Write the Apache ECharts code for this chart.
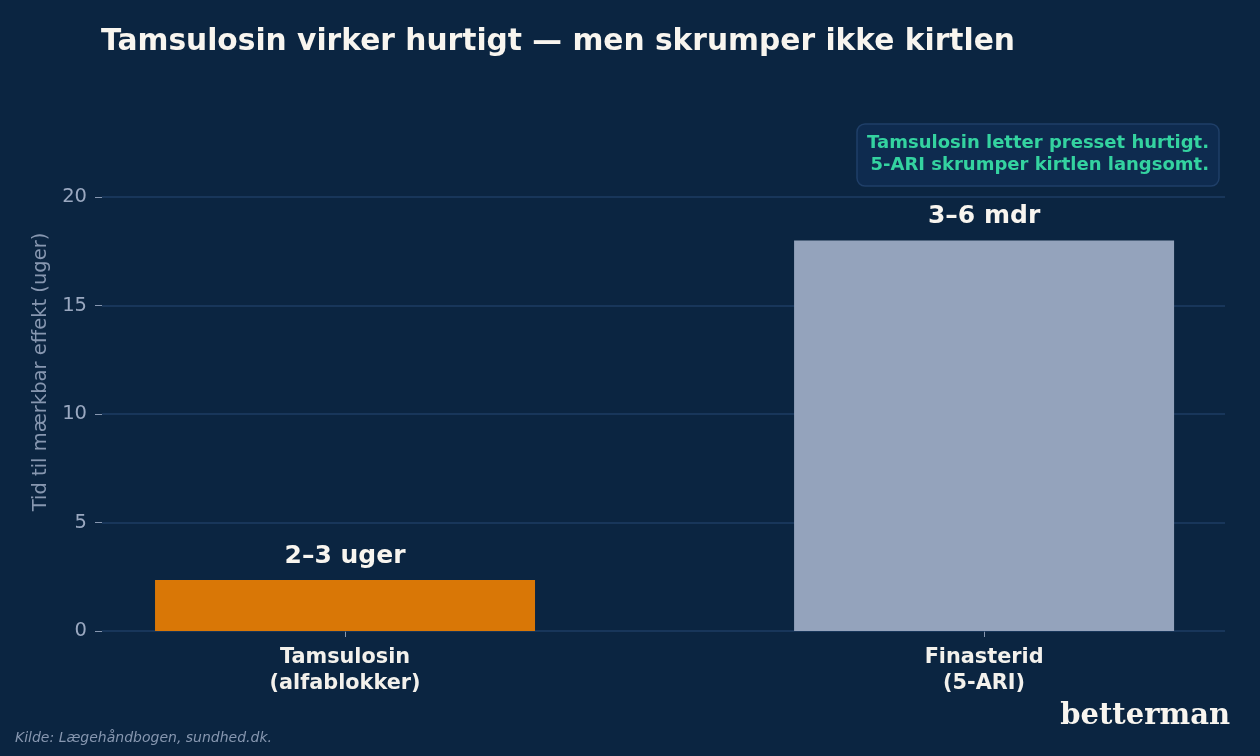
<!DOCTYPE html>
<html>
<head>
<meta charset="utf-8">
<script src="https://cdn.jsdelivr.net/npm/echarts@6/dist/echarts.min.js"></script>
<style>
  html, body { margin: 0; padding: 0; background: #0b2541; }
  #chart { width: 1260px; height: 756px; }
</style>
</head>
<body>
<div id="chart"></div>
<script>
// data
var categories = ['Tamsulosin\n(alfablokker)', 'Finasterid\n(5-ARI)']
var values = [2.35, 18]
var barLabels = ['2–3 uger', '3–6 mdr']
var barColors = ['#d97706', '#94a3bc']
var yTicks = [0, 5, 10, 15, 20]

var myChart = echarts.init(document.getElementById('chart'))

var font = '"DejaVu Sans", sans-serif'

var option = {
  backgroundColor: '#0b2541',
  animation: false,
  textStyle: { fontFamily: font },
  title: {
    text: 'Tamsulosin virker hurtigt — men skrumper ikke kirtlen',
    left: 96,
    top: 22,
    textStyle: { color: '#f8f5ef', fontSize: 29.7, fontWeight: 'bold', fontFamily: font }
  },
  // y-akse går over 20 (plads til annotation), ticks kun 0-20
  grid: { left: 102, right: 35, top: 113, bottom: 125 },
  xAxis: {
    type: 'value',
    min: -0.3803,
    max: 1.377,
    splitLine: { show: false },
    axisLine: { show: false },
    axisTick: { show: true, customValues: [0, 1], length: 6, lineStyle: { color: '#8797b0' } },
    axisLabel: {
      customValues: [0, 1],
      margin: 14,
      color: '#f3f1ec',
      fontSize: 20.8,
      fontWeight: 'bold',
      lineHeight: 26,
      fontFamily: font,
      formatter: function (v) { return categories[Math.round(v)] }
    }
  },
  yAxis: {
    type: 'value',
    min: 0,
    max: 23.87,
    name: 'Tid til mærkbar effekt (uger)',
    nameLocation: 'middle',
    nameGap: 50,
    nameTextStyle: { color: '#8797b0', fontSize: 19.5, fontFamily: font },
    axisLine: { show: false, onZero: false },
    axisTick: { show: true, customValues: yTicks, length: 7, lineStyle: { color: '#8797b0' } },
    axisLabel: { customValues: yTicks, color: '#9aa8c0', fontSize: 19.5, margin: 15, fontFamily: font },
    splitLine: { show: false }
  },
  series: [
    {
      type: 'bar',
      barWidth: 380,
      z: 3,
      data: values.map(function (v, i) {
        return { value: [i, v], itemStyle: { color: barColors[i] } }
      }),
      label: {
        show: true,
        position: 'top',
        distance: 11,
        color: '#f8f5ef',
        fontSize: 25,
        fontWeight: 'bold',
        fontFamily: font,
        formatter: function (p) { return barLabels[p.dataIndex] }
      }
    },
    {
      // gitterlinjer bag søjlerne
      type: 'line',
      z: 1,
      data: [],
      silent: true,
      markLine: {
        z: 1,
        silent: true,
        symbol: 'none',
        label: { show: false },
        lineStyle: { color: '#1e3d63', width: 1.5, type: 'solid' },
        data: yTicks.map(function (t) { return { yAxis: t } })
      }
    }
  ],
  graphic: [
    {
      type: 'rect',
      shape: { x: 857, y: 124, width: 362, height: 62, r: 8 },
      style: { fill: '#0e2b4f', stroke: '#1f3f68', lineWidth: 1.5 }
    },
    {
      type: 'text',
      x: 1209,
      y: 132,
      style: {
        text: 'Tamsulosin letter presset hurtigt.\n5-ARI skrumper kirtlen langsomt.',
        align: 'right',
        fill: '#34d3a0',
        font: 'bold 18px "DejaVu Sans"',
        lineHeight: 22
      }
    },
    {
      type: 'text',
      left: 15,
      top: 731,
      style: {
        text: 'Kilde: Lægehåndbogen, sundhed.dk.',
        fill: '#8797b0',
        font: 'italic 14px "DejaVu Sans"'
      }
    },
    {
      type: 'text',
      right: 30,
      top: 702,
      style: {
        text: 'betterman',
        fill: '#f8f5ef',
        font: 'bold 29px "DejaVu Serif"'
      }
    }
  ]
}

myChart.setOption(option)
</script>
</body>
</html>
